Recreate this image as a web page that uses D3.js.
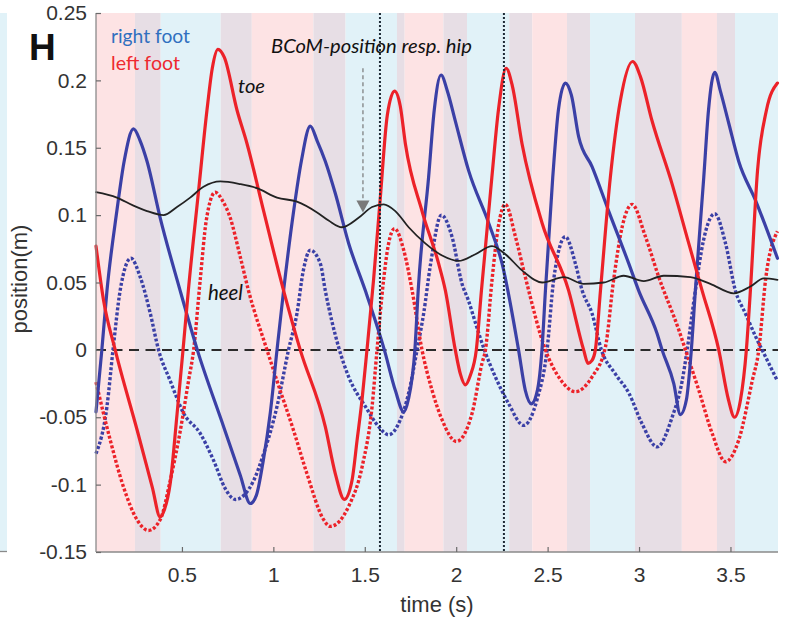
<!DOCTYPE html>
<html>
<head>
<meta charset="utf-8">
<script src="https://cdn.jsdelivr.net/npm/d3@7"></script>
<style>
  html, body { margin: 0; padding: 0; background: #fff; }
  svg { display: block; }
</style>
</head>
<body>
<svg id="chart" width="787" height="626"></svg>
<script>
// ---- gait phases (time in s): L = left single support, D = double support, R = right single support
const phaseStart = [0.030, 0.243, 0.384, 0.712, 0.882, 1.219, 1.395, 1.676, 1.718, 1.930, 2.059, 2.290, 2.416, 2.606, 2.732, 2.978, 3.234, 3.426, 3.525];
const phaseKind  = ["L", "D", "R", "D", "L", "D", "R", "D", "L", "D", "R", "D", "L", "D", "R", "D", "L", "D", "R"];
const timeEnd = 3.76;

// ---- marked instants (vertical dotted lines)
const eventTimes = [1.583, 2.261];

// ---- axis ticks
const xTicks = [0.5, 1, 1.5, 2, 2.5, 3, 3.5];
const yTicks = [-0.15, -0.1, -0.05, 0, 0.05, 0.1, 0.15, 0.2, 0.25];

// ---- series: [time (s), position (m)]
const rightToe = [
  [0.030,-0.046],[0.062,0],[0.090,0.044],[0.144,0.103],[0.184,0.140],[0.235,0.164],[0.272,0.155],[0.309,0.140],
  [0.381,0.098],[0.486,0.046],[0.584,0],[0.728,-0.057],[0.819,-0.093],[0.874,-0.114],[0.907,-0.108],[0.945,-0.082],
  [0.983,-0.047],[1.020,0],[1.056,0.044],[1.111,0.103],[1.153,0.140],[1.202,0.166],[1.240,0.155],[1.284,0.140],
  [1.339,0.116],[1.412,0.079],[1.503,0.044],[1.607,0],[1.667,-0.030],[1.713,-0.046],[1.738,-0.037],[1.774,0],
  [1.793,0.046],[1.849,0.128],[1.880,0.178],[1.917,0.204],[1.952,0.192],[1.995,0.170],[2.068,0.133],[2.178,0.094],
  [2.251,0.064],[2.341,0],[2.378,-0.030],[2.411,-0.040],[2.444,-0.030],[2.469,0],[2.488,0.044],[2.528,0.128],
  [2.559,0.178],[2.597,0.198],[2.630,0.189],[2.670,0.158],[2.743,0.136],[2.834,0.103],[2.944,0.064],[2.998,0.044],
  [3.099,0.012],[3.126,0],[3.190,-0.025],[3.226,-0.048],[3.259,-0.037],[3.286,0],[3.308,0.044],[3.354,0.128],
  [3.380,0.178],[3.414,0.206],[3.445,0.192],[3.491,0.168],[3.545,0.140],[3.637,0.111],[3.757,0.068]
];
const leftToe = [
  [0.030,0.077],[0.071,0.037],[0.135,0],[0.256,-0.060],[0.338,-0.102],[0.381,-0.124],[0.403,-0.119],[0.436,-0.099],
  [0.473,-0.048],[0.506,0],[0.535,0.044],[0.591,0.118],[0.637,0.178],[0.666,0.209],[0.697,0.223],[0.732,0.217],
  [0.801,0.178],[0.856,0.153],[0.947,0.103],[1.056,0.044],[1.147,0],[1.284,-0.057],[1.339,-0.092],[1.388,-0.111],
  [1.430,-0.097],[1.458,-0.067],[1.485,-0.037],[1.512,0],[1.548,0.052],[1.585,0.113],[1.623,0.174],[1.663,0.192],
  [1.694,0.181],[1.722,0.153],[1.813,0.103],[1.904,0.064],[1.941,0.044],[1.995,0],[2.023,-0.018],[2.050,-0.026],
  [2.077,-0.019],[2.110,0],[2.138,0.044],[2.195,0.128],[2.231,0.178],[2.273,0.209],[2.307,0.196],[2.360,0.153],
  [2.470,0.094],[2.615,0.044],[2.697,0],[2.721,-0.010],[2.742,-0.008],[2.761,0],[2.789,0.044],[2.843,0.128],
  [2.898,0.185],[2.965,0.214],[3.007,0.203],[3.071,0.170],[3.181,0.123],[3.272,0.079],[3.345,0.044],[3.436,0],
  [3.489,-0.037],[3.522,-0.050],[3.555,-0.037],[3.587,0],[3.609,0.044],[3.648,0.133],[3.697,0.178],[3.757,0.198]
];
const rightHeel = [
  [0.030,-0.077],[0.090,-0.042],[0.123,0],[0.162,0.044],[0.221,0.068],[0.272,0.054],[0.327,0.027],[0.372,0],
  [0.436,-0.023],[0.509,-0.047],[0.600,-0.062],[0.673,-0.082],[0.737,-0.103],[0.792,-0.111],[0.892,-0.097],
  [0.947,-0.077],[1.020,-0.042],[1.083,0],[1.129,0.027],[1.164,0.059],[1.202,0.074],[1.257,0.064],[1.284,0.044],
  [1.357,0.002],[1.412,-0.020],[1.503,-0.042],[1.576,-0.057],[1.630,-0.063],[1.694,-0.052],[1.740,-0.032],
  [1.786,0],[1.822,0.027],[1.859,0.063],[1.919,0.100],[1.977,0.084],[2.032,0.049],[2.066,0.037],[2.110,0.018],
  [2.154,0],[2.214,-0.020],[2.287,-0.040],[2.369,-0.056],[2.442,-0.037],[2.497,0],[2.533,0.052],[2.597,0.084],
  [2.652,0.064],[2.689,0.044],[2.743,0.027],[2.794,0],[2.871,-0.018],[2.944,-0.032],[3.017,-0.055],[3.099,-0.072],
  [3.181,-0.050],[3.236,-0.023],[3.263,0],[3.308,0.044],[3.352,0.081],[3.414,0.101],[3.473,0.079],[3.527,0.044],
  [3.582,0.027],[3.637,0.010],[3.673,0],[3.757,-0.023]
];
const leftHeel = [
  [0.030,-0.024],[0.108,-0.067],[0.181,-0.102],[0.254,-0.126],[0.317,-0.134],[0.381,-0.126],[0.436,-0.097],
  [0.491,-0.060],[0.536,-0.023],[0.564,0],[0.600,0.052],[0.633,0.096],[0.682,0.117],[0.721,0.111],[0.764,0.098],
  [0.819,0.069],[0.864,0.044],[0.965,0],[1.020,-0.023],[1.111,-0.060],[1.184,-0.092],[1.275,-0.126],[1.311,-0.131],
  [1.412,-0.116],[1.485,-0.087],[1.540,-0.042],[1.567,0],[1.603,0.052],[1.629,0.078],[1.663,0.090],[1.713,0.074],
  [1.759,0.044],[1.813,0],[1.868,-0.030],[1.923,-0.052],[2.001,-0.068],[2.087,-0.047],[2.141,-0.010],[2.160,0],
  [2.196,0.052],[2.231,0.092],[2.269,0.108],[2.324,0.084],[2.378,0.054],[2.488,0],[2.570,-0.022],[2.652,-0.031],
  [2.743,-0.020],[2.816,0.002],[2.861,0.052],[2.909,0.092],[2.962,0.108],[3.035,0.084],[3.108,0.054],[3.217,0.015],
  [3.254,0],[3.327,-0.030],[3.400,-0.062],[3.473,-0.083],[3.545,-0.067],[3.619,-0.023],[3.655,0],[3.692,0.052],
  [3.757,0.088]
];
const bcom = [
  [0.030,0.117],[0.144,0.113],[0.235,0.107],[0.309,0.103],[0.399,0.100],[0.473,0.106],[0.545,0.113],[0.618,0.121],
  [0.710,0.125],[0.819,0.123],[0.910,0.120],[1.020,0.113],[1.129,0.110],[1.239,0.102],[1.302,0.096],[1.375,0.091],
  [1.466,0.098],[1.540,0.106],[1.603,0.108],[1.667,0.103],[1.740,0.091],[1.831,0.079],[1.923,0.070],[2.013,0.066],
  [2.105,0.071],[2.196,0.077],[2.269,0.071],[2.360,0.059],[2.470,0.050],[2.588,0.054],[2.697,0.049],[2.807,0.050],
  [2.916,0.055],[3.026,0.051],[3.135,0.055],[3.281,0.054],[3.390,0.049],[3.518,0.042],[3.609,0.047],[3.682,0.053],
  [3.757,0.052]
];

// arrow pointing at the BCoM curve
const arrowTime = 1.49, arrowFrom = 0.209, arrowTo = 0.102;

// ---- drawing
const svg = d3.select("#chart");
const x = d3.scaleLinear().domain([0.03, timeEnd]).range([96, 778]);
const y = d3.scaleLinear().domain([-0.15, 0.25]).range([552, 13]);

const phaseFill = { L: "#fde3e4", D: "#e7dee5", R: "#e1f2f8" };
const blue = "#3b40a6", red = "#ec2229";

// strip of the neighbouring panel at the left edge
svg.append("rect").attr("x", 0).attr("y", 13).attr("width", 7).attr("height", 539).attr("fill", "#e1f2f8");
svg.append("line").attr("x1", 0).attr("x2", 7).attr("y1", 551.5).attr("y2", 551.5)
  .attr("stroke", "#8a8a8a").attr("stroke-width", 1.3);

// phase bands
const phases = phaseStart.map((s, i) => ({ s, e: i + 1 < phaseStart.length ? phaseStart[i + 1] : timeEnd, k: phaseKind[i] }));
svg.append("g").selectAll("rect").data(phases).join("rect")
  .attr("x", d => x(d.s)).attr("width", d => x(d.e) - x(d.s))
  .attr("y", y(0.25)).attr("height", y(-0.15) - y(0.25))
  .attr("fill", d => phaseFill[d.k]);

// zero reference
svg.append("line").attr("x1", x(0.03)).attr("x2", x(timeEnd)).attr("y1", y(0)).attr("y2", y(0))
  .attr("stroke", "#2b2b2b").attr("stroke-width", 2).attr("stroke-dasharray", "10 6.5");

const line = d3.line().x(d => x(d[0])).y(d => y(d[1])).curve(d3.curveMonotoneX);

function drawSeries(data, color, width, dash) {
  const p = svg.append("path").attr("d", line(data)).attr("fill", "none")
    .attr("stroke", color).attr("stroke-width", width).attr("stroke-linejoin", "round");
  if (dash) p.attr("stroke-dasharray", dash);
  else p.attr("stroke-linecap", "round");
}
drawSeries(rightHeel, blue, 3.4, "3 2");
drawSeries(leftHeel, red, 3.4, "3 2");
drawSeries(rightToe, blue, 3.2);
drawSeries(leftToe, red, 3.2);
drawSeries(bcom, "#222", 1.8);

// event markers
svg.append("g").selectAll("line").data(eventTimes).join("line")
  .attr("x1", d => x(d)).attr("x2", d => x(d)).attr("y1", y(0.25)).attr("y2", y(-0.15))
  .attr("stroke", "#1d2a36").attr("stroke-width", 2).attr("stroke-dasharray", "2 2");

// axes (plain hyphen for negative numbers)
const fmt = d => String(+(+d).toFixed(2));
const axisFont = "'Liberation Sans', Arial, sans-serif";
const gx = svg.append("g").attr("transform", `translate(0,${y(-0.15)})`)
  .call(d3.axisBottom(x).tickValues(xTicks).tickFormat(fmt).tickSize(-5).tickPadding(15));
const gy = svg.append("g").attr("transform", `translate(${x(0.03)},0)`)
  .call(d3.axisLeft(y).tickValues(yTicks).tickFormat(fmt).tickSize(-5).tickPadding(9));
[gx, gy].forEach(g => {
  g.select(".domain").attr("stroke", "#8a8a8a").attr("stroke-width", 1.3);
  g.selectAll(".tick line").attr("stroke", "#6a6a6a").attr("stroke-width", 1.2);
  g.selectAll(".tick text").attr("fill", "#333").attr("font-family", axisFont).attr("font-size", 21);
});
gx.select(".domain").attr("d", `M${x(0.03)},0H${x(timeEnd)}`);
gy.select(".domain").attr("d", `M0,${y(-0.15)}V${y(0.25)}`);

svg.append("text").attr("x", (x(0.03) + x(timeEnd)) / 2).attr("y", 612)
  .attr("text-anchor", "middle").attr("font-family", axisFont).attr("font-size", 22).attr("fill", "#333")
  .text("time (s)");
svg.append("text").attr("transform", "translate(27,279) rotate(-90)")
  .attr("text-anchor", "middle").attr("font-family", axisFont).attr("font-size", 22).attr("fill", "#333")
  .text("position(m)");

// panel letter
svg.append("text").attr("x", 29).attr("y", 60).attr("font-family", axisFont)
  .attr("font-weight", "bold").attr("font-size", 37).attr("fill", "#111").text("H");

// labels in a humanist face, sized to their span
const labelFont = "Lato, 'Open Sans', sans-serif";
function label(txt, x0, base, width, color, italic) {
  const t = svg.append("text").attr("x", x0).attr("y", base).attr("font-family", labelFont)
    .attr("font-size", 18).attr("fill", color).text(txt);
  if (italic) t.attr("font-style", "italic");
  const w = t.node().getComputedTextLength();
  if (w > 0) t.attr("font-size", 18 * width / w);
  return t;
}
label("right foot", 111, 43, 79, "#2f6fbf", false);
label("left foot", 111, 70, 69, "#ee2a30", false);
label("BCoM-position resp. hip", 271, 53, 201, "#111", true);
label("toe", 238, 93, 27, "#111", true);
label("heel", 208, 300, 35, "#111", true);

// dashed arrow to the BCoM curve
const ax = x(arrowTime);
svg.append("line").attr("x1", ax).attr("x2", ax).attr("y1", y(arrowFrom)).attr("y2", y(arrowTo) - 11)
  .attr("stroke", "#777").attr("stroke-width", 1.2).attr("stroke-dasharray", "4 3");
svg.append("path")
  .attr("d", `M${ax - 6.5},${y(arrowTo) - 12}L${ax + 6.5},${y(arrowTo) - 12}L${ax},${y(arrowTo)}Z`)
  .attr("fill", "#7a7a7a");
</script>
</body>
</html>
